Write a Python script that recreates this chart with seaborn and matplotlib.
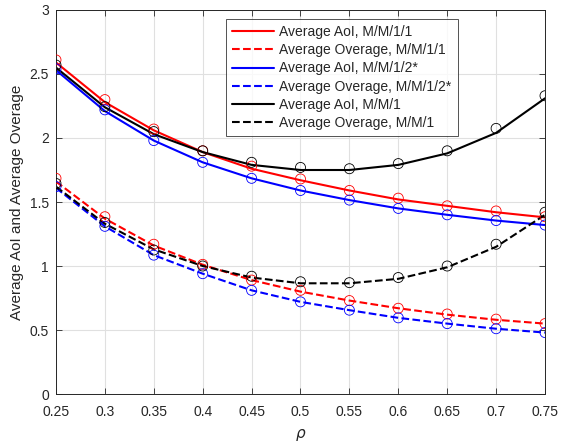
import numpy as np
import pandas as pd
import matplotlib
matplotlib.use("Agg")
import matplotlib.pyplot as plt
import seaborn as sns

## data ##

rho = [0.25, 0.30, 0.35, 0.40, 0.45, 0.50, 0.55, 0.60, 0.65, 0.70, 0.75]

# analytical curves (lines)
aoi_mm11 = [2.59, 2.28, 2.06, 1.89, 1.76, 1.67, 1.59, 1.52, 1.47, 1.42, 1.38]
ovg_mm11 = [1.66, 1.37, 1.16, 1.01, 0.89, 0.80, 0.73, 0.67, 0.62, 0.58, 0.55]
aoi_mm12 = [2.53, 2.21, 1.98, 1.81, 1.685, 1.59, 1.515, 1.45, 1.40, 1.355, 1.32]
ovg_mm12 = [1.61, 1.31, 1.085, 0.94, 0.81, 0.72, 0.655, 0.595, 0.55, 0.51, 0.48]
aoi_mm1 = [2.55, 2.24, 2.03, 1.89, 1.79, 1.75, 1.75, 1.79, 1.88, 2.04, 2.31]
ovg_mm1 = [1.62, 1.33, 1.13, 1.00, 0.91, 0.865, 0.865, 0.90, 0.99, 1.15, 1.40]

# simulation results (circle markers)
aoi_mm11_sim = [2.61, 2.30, 2.07, 1.90, 1.78, 1.68, 1.59, 1.53, 1.47, 1.43, 1.385]
ovg_mm11_sim = [1.685, 1.385, 1.17, 1.013, 0.89, 0.81, 0.73, 0.67, 0.625, 0.585, 0.55]
aoi_mm12_sim = [2.54, 2.22, 1.98, 1.81, 1.685, 1.59, 1.515, 1.45, 1.40, 1.355, 1.32]
ovg_mm12_sim = [1.62, 1.31, 1.085, 0.94, 0.81, 0.72, 0.655, 0.595, 0.55, 0.51, 0.48]
aoi_mm1_sim = [2.57, 2.245, 2.05, 1.90, 1.81, 1.77, 1.76, 1.80, 1.90, 2.075, 2.33]
ovg_mm1_sim = [1.645, 1.34, 1.125, 1.00, 0.92, 0.877, 0.87, 0.91, 1.00, 1.17, 1.42]

labels = ["Average AoI, M/M/1/1", "Average Overage, M/M/1/1",
          "Average AoI, M/M/1/2*", "Average Overage, M/M/1/2*",
          "Average AoI, M/M/1", "Average Overage, M/M/1"]

## plot ##

sns.set_style("ticks")
plt.rcParams['font.family'] = ['Liberation Sans', 'DejaVu Sans']

fig = plt.figure(figsize=(5.61, 4.48), dpi=100)
ax = fig.add_axes([0.0998, 0.1205, 0.8717, 0.8572])

series = [
    (aoi_mm11, aoi_mm11_sim, "#ff0000", "-"),
    (ovg_mm11, ovg_mm11_sim, "#ff0000", "--"),
    (aoi_mm12, aoi_mm12_sim, "#0000ff", "-"),
    (ovg_mm12, ovg_mm12_sim, "#0000ff", "--"),
    (aoi_mm1, aoi_mm1_sim, "#000000", "-"),
    (ovg_mm1, ovg_mm1_sim, "#000000", "--"),
]

for (line_vals, sim_vals, col, ls), lab in zip(series, labels):
    sns.lineplot(x=rho, y=line_vals, color=col, linestyle=ls, linewidth=1.5,
                 label=lab, ax=ax)
    sns.scatterplot(x=rho, y=sim_vals, marker="o", s=52, facecolors="none",
                    edgecolor=col, linewidth=0.6, ax=ax, legend=False, zorder=3)

ax.set_xlim(0.25, 0.75)
ax.set_ylim(0, 3)
ax.set_xticks(np.arange(0.25, 0.751, 0.05))
ax.set_xticklabels(["0.25", "0.3", "0.35", "0.4", "0.45", "0.5", "0.55",
                    "0.6", "0.65", "0.7", "0.75"])
ax.set_yticks(np.arange(0, 3.01, 0.5))
ax.set_yticklabels(["0", "0.5", "1", "1.5", "2", "2.5", "3"])
ax.grid(True, color="#e0e0e0", linewidth=0.8)
ax.set_axisbelow(True)
ax.tick_params(direction="in", top=True, right=True, labelsize=10,
               colors="#262626", width=0.6, length=4)
ax.tick_params(axis="x", pad=8)
ax.tick_params(axis="y", pad=5)
for sp in ax.spines.values():
    sp.set_visible(True)
    sp.set_linewidth(0.7)
    sp.set_color("#262626")

ax.set_xlabel(r"$\rho$", fontsize=11, color="#262626", labelpad=6)
ax.set_ylabel("Average AoI and Average Overage", fontsize=11, color="#262626",
              labelpad=4)

leg = ax.legend(loc="upper right", bbox_to_anchor=(0.822, 0.977), fontsize=10,
                frameon=True, fancybox=False, edgecolor="#262626",
                handlelength=3.0, borderpad=0.45, labelspacing=0.3,
                handletextpad=0.4, borderaxespad=0)
leg.get_frame().set_linewidth(0.7)

fig.savefig("out.png", dpi=100)
